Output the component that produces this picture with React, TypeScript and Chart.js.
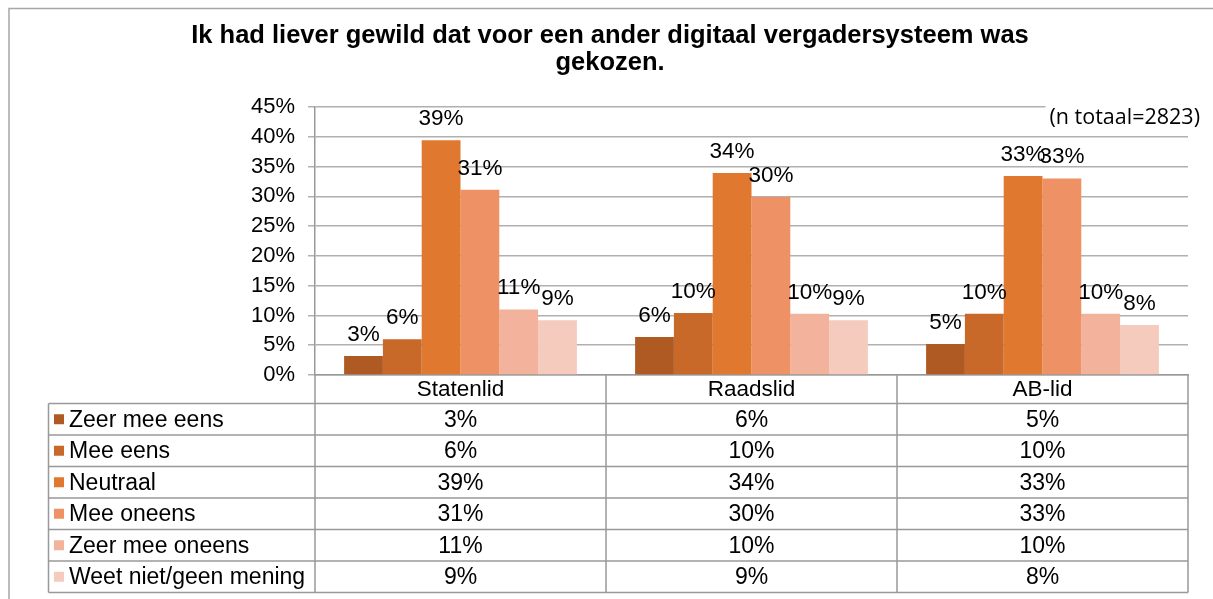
import React, { useEffect, useRef } from 'react';
import { Chart, registerables } from 'chart.js';

Chart.register(...registerables);

// ---- data ----
const categories = ['Statenlid', 'Raadslid', 'AB-lid'];
const seriesNames = [
  'Zeer mee eens',
  'Mee eens',
  'Neutraal',
  'Mee oneens',
  'Zeer mee oneens',
  'Weet niet/geen mening',
];
const zeerMeeEens = [3.2, 6.4, 5.2];
const meeEens = [6.0, 10.4, 10.3];
const neutraal = [39.4, 33.9, 33.4];
const meeOneens = [31.1, 29.9, 33.0];
const zeerMeeOneens = [11.0, 10.3, 10.3];
const weetNiet = [9.2, 9.2, 8.4];
const seriesValues = [zeerMeeEens, meeEens, neutraal, meeOneens, zeerMeeOneens, weetNiet];
const seriesColors = ['#AE5A22', '#C8692A', '#E07830', '#EE9265', '#F2B29B', '#F5CBBE'];
const yMin = 0;
const yMax = 45;
const yStep = 5;
const titleLines = [
  'Ik had liever gewild dat voor een ander digitaal vergadersysteem was',
  'gekozen.',
];
const noteText = '(n totaal=2823)';

const FONT = '"Liberation Sans", Arial, Helvetica, sans-serif';
const fmt = (v: number) => `${Math.round(v)}%`;

const decorPlugin = {
  id: 'decor',
  beforeDraw(chart: any) {
    const { ctx, width, height } = chart;
    ctx.save();
    ctx.fillStyle = '#ffffff';
    ctx.fillRect(0, 0, width, height);
    ctx.strokeStyle = '#a6a6a6';
    ctx.lineWidth = 1.5;
    ctx.beginPath();
    ctx.moveTo(9, height);
    ctx.lineTo(9, 8.5);
    ctx.lineTo(width, 8.5);
    ctx.stroke();
    ctx.restore();
  },
  afterDatasetsDraw(chart: any) {
    const { ctx } = chart;
    ctx.save();
    ctx.font = `22.5px ${FONT}`;
    ctx.fillStyle = '#000';
    ctx.textAlign = 'center';
    ctx.textBaseline = 'alphabetic';
    chart.data.datasets.forEach((ds: any, di: number) => {
      const meta = chart.getDatasetMeta(di);
      meta.data.forEach((el: any, i: number) => {
        ctx.fillText(fmt(ds.data[i]), el.x, el.y - 15);
      });
    });
    ctx.restore();
  },
  afterDraw(chart: any) {
    const { ctx, chartArea: area } = chart;
    const xs = chart.scales.x;
    ctx.save();
    // title
    ctx.fillStyle = '#000';
    ctx.textAlign = 'center';
    ctx.textBaseline = 'alphabetic';
    ctx.font = `bold 25.5px ${FONT}`;
    ctx.fillText(titleLines[0], 610, 43);
    ctx.fillText(titleLines[1], 610, 70);

    // note with white background
    ctx.font = `21.5px "Open Sans", sans-serif`;
    const w = ctx.measureText(noteText).width;
    ctx.fillStyle = '#fff';
    ctx.fillRect(1200 - w - 4, 100, w + 8, 30);
    ctx.fillStyle = '#000';
    ctx.textAlign = 'right';
    ctx.fillText(noteText, 1200, 124);

    // data table
    const n = categories.length;
    const colW = (area.right - area.left) / n;
    const headTop = area.bottom;
    const tableTop = area.bottom + 28.5;
    const rowH = 31.5;
    const tableLeft = 48.5;
    const tableBottom = tableTop + rowH * seriesNames.length;
    ctx.strokeStyle = '#999';
    ctx.lineWidth = 1.5;
    ctx.beginPath();
    for (let r = 0; r <= seriesNames.length; r++) {
      const y = tableTop + r * rowH;
      ctx.moveTo(tableLeft, y);
      ctx.lineTo(area.right, y);
    }
    ctx.moveTo(tableLeft, tableTop);
    ctx.lineTo(tableLeft, tableBottom);
    for (let i = 0; i <= n; i++) {
      const x = area.left + i * colW;
      ctx.moveTo(x, headTop);
      ctx.lineTo(x, tableBottom);
    }
    ctx.stroke();

    ctx.font = `23px ${FONT}`;
    ctx.textBaseline = 'middle';
    seriesNames.forEach((name, r) => {
      const yc = tableTop + r * rowH + rowH / 2;
      ctx.fillStyle = seriesColors[r];
      ctx.fillRect(54, yc - 5, 10, 10);
      ctx.fillStyle = '#000';
      ctx.textAlign = 'left';
      ctx.fillText(name, 69, yc + 1);
      ctx.textAlign = 'center';
      seriesValues[r].forEach((v, i) => {
        ctx.fillText(fmt(v), xs.getPixelForValue(i), yc + 1);
      });
    });
    ctx.restore();
  },
};

export default function App() {
  const canvasRef = useRef<HTMLCanvasElement | null>(null);

  useEffect(() => {
    if (!canvasRef.current) return;
    const chart = new Chart(canvasRef.current, {
      type: 'bar',
      data: {
        labels: categories,
        datasets: seriesNames.map((name, i) => ({
          label: name,
          data: seriesValues[i],
          backgroundColor: seriesColors[i],
          borderWidth: 0,
          barPercentage: 1,
          categoryPercentage: 0.8,
        })),
      },
      options: {
        animation: false,
        responsive: true,
        maintainAspectRatio: false,
        events: [],
        layout: { padding: { left: 0, right: 25, top: 107, bottom: 0 } },
        plugins: {
          legend: { display: false },
          tooltip: { enabled: false },
          title: { display: false },
        },
        scales: {
          x: {
            grid: { display: false, drawTicks: false },
            border: { display: true, color: '#999', width: 1.5 },
            ticks: {
              color: '#000',
              font: { family: FONT, size: 22.5 },
              padding: 1,
              maxRotation: 0,
              autoSkip: false,
            },
            afterFit: (s: any) => {
              s.height = 224;
            },
          },
          y: {
            min: yMin,
            max: yMax,
            grid: { color: '#b0b0b0', lineWidth: 1.5, tickLength: 7, drawTicks: true },
            border: { display: true, color: '#999', width: 1.5 },
            ticks: {
              stepSize: yStep,
              color: '#000',
              font: { family: FONT, size: 22 },
              padding: 13,
              callback: (v: any) => `${v}%`,
            },
            afterFit: (s: any) => {
              s.width = 315;
            },
          },
        },
      },
      plugins: [decorPlugin],
    });
    return () => chart.destroy();
  }, []);

  return (
    <div style={{ position: 'fixed', left: 0, top: 0, width: 1213, height: 599, background: '#fff' }}>
      <canvas ref={canvasRef} />
    </div>
  );
}
